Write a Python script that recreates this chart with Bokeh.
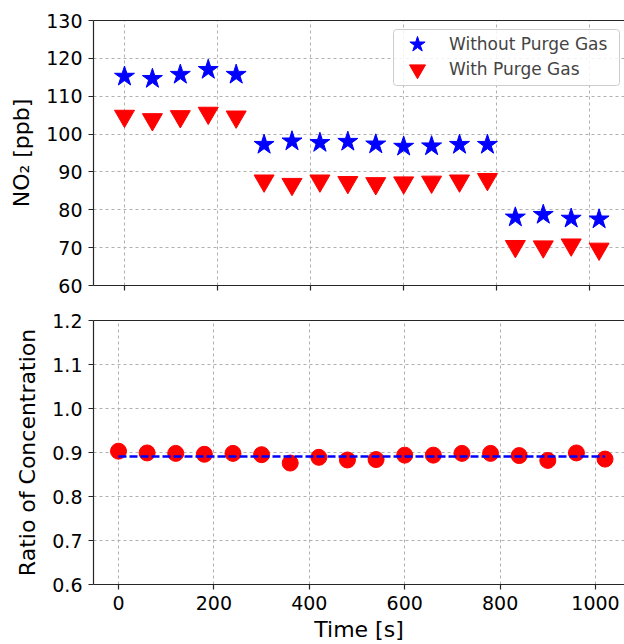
from bokeh.plotting import figure
from bokeh.layouts import column
from bokeh.models import (Range1d, FixedTicker, LinearAxis, Legend, LegendItem,
                          PrintfTickFormatter, ColumnDataSource, BoxAnnotation)
from bokeh.transform import dodge
from bokeh.embed import file_html
from bokeh.resources import INLINE

# ---------------- data ----------------
time_s = [0, 60, 120, 180, 240, 300, 360, 420, 480, 540, 600, 660, 720, 780,
          840, 900, 960, 1020]
no2_without_purge = [115.2, 114.6, 115.7, 117.0, 115.7,
                     97.2, 98.1, 97.7, 98.0, 97.3, 96.7, 96.8, 97.2, 97.2,
                     78.0, 78.7, 77.7, 77.5]
no2_with_purge = [104.0, 103.1, 103.9, 104.8, 103.8,
                  86.9, 86.0, 86.9, 86.5, 86.2, 86.4, 86.6, 86.9, 87.3,
                  69.6, 69.5, 70.0, 68.9]
ratio = [0.903, 0.899, 0.898, 0.896, 0.898, 0.895, 0.876, 0.889, 0.883,
         0.884, 0.894, 0.894, 0.898, 0.898, 0.893, 0.882, 0.899, 0.885]
mean_ratio = 0.891

x_ticks = [0, 200, 400, 600, 800, 1000]
no2_ticks = [60, 70, 80, 90, 100, 110, 120, 130]
ratio_ticks = [0.6, 0.7, 0.8, 0.9, 1.0, 1.1, 1.2]

series_labels = ["Without Purge Gas", "With Purge Gas"]
x_label = "Time [s]"
y_label_top = "NO\u2082 [ppb]"
y_label_bottom = "Ratio of Concentration"

# ---------------- style ----------------
FONT = "DejaVu Sans"
TICK_FS = "19px"
LABEL_FS = "22px"
SPINE = "#262626"
GRID = "#b0b0b0"
W = 624


def style(p, xticks, yticks):
    p.outline_line_color = None
    p.background_fill_color = "white"
    p.border_fill_color = "white"
    xa, ya = p.below[0], p.left[0]
    for ax in (xa, ya):
        ax.axis_line_color = SPINE
        ax.axis_line_width = 1.2
        ax.major_tick_line_color = SPINE
        ax.major_tick_line_width = 1.2
        ax.major_tick_out = 5
        ax.major_tick_in = 0
        ax.minor_tick_line_color = None
        ax.major_label_text_font = FONT
        ax.major_label_text_font_size = TICK_FS
        ax.major_label_text_color = "black"
        ax.major_label_standoff = 6
        ax.axis_label_text_font = FONT
        ax.axis_label_text_font_size = LABEL_FS
        ax.axis_label_text_font_style = "normal"
        ax.axis_label_text_color = "black"
    xa.ticker = FixedTicker(ticks=xticks)
    ya.ticker = FixedTicker(ticks=yticks)
    for g in (p.xgrid[0], p.ygrid[0]):
        g.grid_line_color = GRID
        g.grid_line_dash = "3 3"
        g.grid_line_width = 1
    top = LinearAxis(ticker=FixedTicker(ticks=[]), axis_line_color=SPINE,
                     axis_line_width=1.2, major_tick_line_color=None,
                     minor_tick_line_color=None)
    p.add_layout(top, "above")
    return xa, ya


# ---------------- top plot ----------------
src = ColumnDataSource(dict(t=time_s, a=no2_without_purge, b=no2_with_purge))

p1 = figure(width=W, height=302, output_backend="svg", toolbar_location=None,
            x_range=Range1d(-66.6, 1074.6), y_range=Range1d(60, 130),
            min_border_left=93, min_border_right=0, min_border_top=20,
            min_border_bottom=17)
x1, y1 = style(p1, x_ticks, no2_ticks)
y1.axis_label = y_label_top
y1.axis_label_standoff = 9
x1.major_label_overrides = {t: "" for t in x_ticks}

tri_size = 20
# matplotlib centres the triangle's bounding box on the point; bokeh centres
# its centroid -> shift by h/6 (in data units) to match.
tri_shift = (tri_size * 0.866 / 6) / (265 / 70)

r_star = p1.scatter(x="t", y="a", source=src, marker="star", size=21,
                    fill_color="blue", line_color="blue")
r_tri = p1.scatter(x="t", y=dodge("b", tri_shift, range=p1.y_range),
                   source=src, marker="inverted_triangle", size=tri_size,
                   fill_color="red", line_color="red")

# legend frame (screen units, relative to the plot frame, y upwards)
legend_box = BoxAnnotation(left=300, right=526, top=256, bottom=200,
                           left_units="screen", right_units="screen",
                           top_units="screen", bottom_units="screen",
                           fill_color="white", fill_alpha=0.85,
                           line_color="#cccccc", line_width=1, line_alpha=1)
try:
    legend_box.border_radius = 3
except Exception:
    pass
p1.add_layout(legend_box)


def make_legend(label, renderer, loc):
    return Legend(items=[LegendItem(label=label, renderers=[renderer])],
                  location=loc, margin=0, padding=0, spacing=0,
                  glyph_width=48, glyph_height=40, label_height=40,
                  label_standoff=8,
                  label_text_font=FONT, label_text_font_size="17px",
                  border_line_color=None, background_fill_alpha=0)


p1.add_layout(make_legend(series_labels[0], r_star, (300, 221)))
p1.add_layout(make_legend(series_labels[1], r_tri, (300, 196)))

# ---------------- bottom plot ----------------
p2 = figure(width=W, height=342, output_backend="svg", toolbar_location=None,
            x_range=Range1d(-52.4, 1060.8), y_range=Range1d(0.6, 1.2),
            min_border_left=93, min_border_right=0, min_border_top=18,
            min_border_bottom=59)
x2, y2 = style(p2, x_ticks, ratio_ticks)
y2.formatter = PrintfTickFormatter(format="%.1f")
y2.axis_label = y_label_bottom
y2.axis_label_standoff = 9
x2.axis_label = x_label
x2.axis_label_standoff = 4

p2.scatter(x="r_t", y="r_v",
           source=ColumnDataSource(dict(r_t=time_s, r_v=ratio)),
           marker="circle", size=16, fill_color="red", line_color="red")
p2.line(x=[time_s[0], time_s[-1]], y=[mean_ratio, mean_ratio],
        line_color="blue", line_width=2.5, line_dash="8 3")

layout = column(p1, p2, spacing=0)
open("out.html", "w").write(file_html(layout, INLINE))
